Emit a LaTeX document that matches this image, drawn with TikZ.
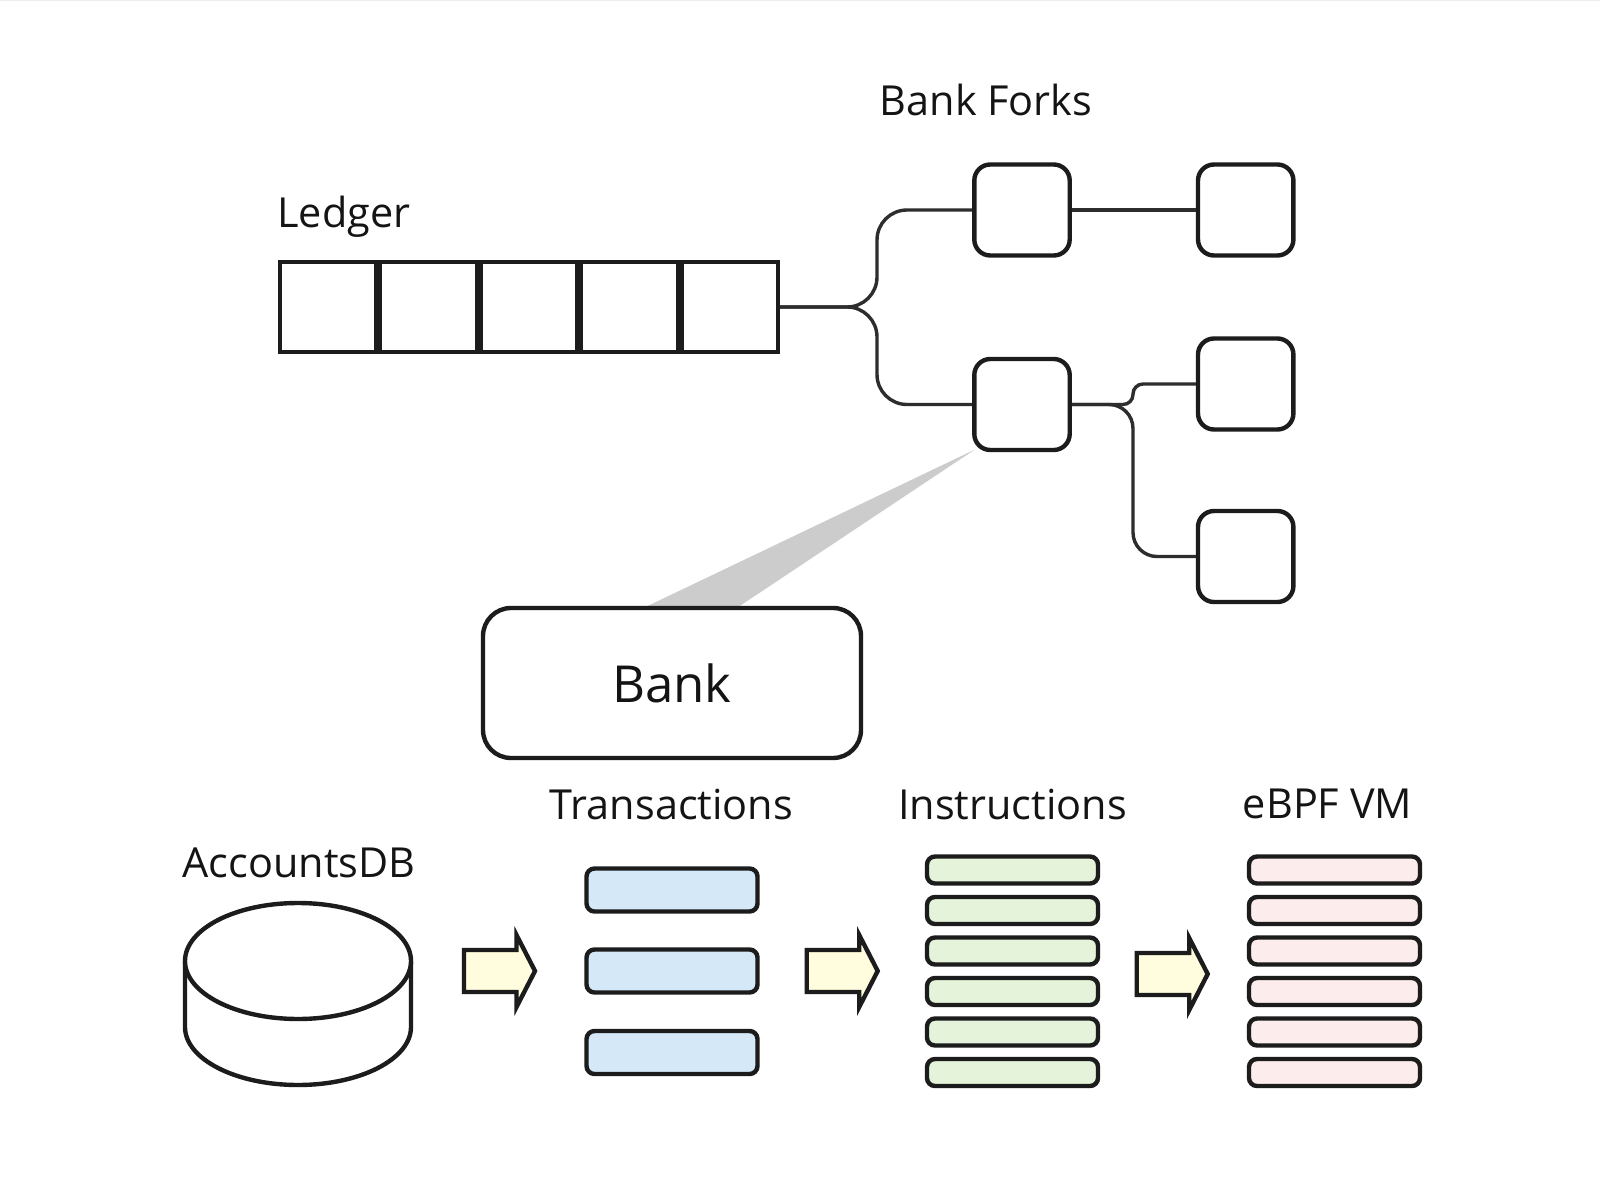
\documentclass[tikz,border=0pt]{standalone}
\usepackage{fontspec}
\setmainfont{Open Sans}
\usetikzlibrary{calc,backgrounds}
\definecolor{linec}{RGB}{28,28,28}
\definecolor{connc}{RGB}{45,45,45}
\definecolor{txtc}{RGB}{20,20,20}
\definecolor{arrowfill}{RGB}{255,253,221}
\definecolor{txfill}{RGB}{212,232,248}
\definecolor{infill}{RGB}{229,243,218}
\definecolor{vmfill}{RGB}{253,236,236}
\definecolor{wedgec}{RGB}{204,204,204}
\definecolor{edgec}{RGB}{236,236,236}
\tikzset{
  forkbox/.style={draw=linec, line width=2.2pt, rounded corners=8pt, fill=white,
    minimum width=47.7pt, minimum height=45.5pt, inner sep=0pt},
  cell/.style={draw=linec, line width=2pt, fill=white,
    minimum width=48.2pt, minimum height=45pt, inner sep=0pt},
  bankbox/.style={draw=linec, line width=2.2pt, rounded corners=14pt, fill=white,
    minimum width=189pt, minimum height=75pt, inner sep=0pt, text=txtc,
    font=\fontsize{25.5}{30}\selectfont},
  conn/.style={draw=connc, line width=1.7pt},
  lbl/.style={text=txtc, inner sep=0pt, font=\fontsize{20.7}{24}\selectfont},
  txbar/.style={draw=linec, line width=2.2pt, rounded corners=4pt, fill=txfill,
    minimum width=85.5pt, minimum height=21.5pt, inner sep=0pt},
  inbar/.style={draw=linec, line width=2.2pt, rounded corners=4pt, fill=infill,
    minimum width=85.5pt, minimum height=13.5pt, inner sep=0pt},
  vmbar/.style={draw=linec, line width=2.2pt, rounded corners=4pt, fill=vmfill,
    minimum width=85.5pt, minimum height=13.5pt, inner sep=0pt},
  fatarr/.style={draw=linec, line width=2.2pt, fill=arrowfill, line join=miter},
  dbshape/.style={draw=linec, line width=2.2pt, fill=white},
}
\begin{document}
\begin{tikzpicture}[x=0.5pt,y=-0.5pt]
\useasboundingbox (0,0) rectangle (1600,1187);

% Ledger
\node[lbl, anchor=base west] (ledgerlbl) at (277,228) {Ledger};
\foreach \i in {1,...,5}{
  \node[cell] (L\i) at ({278+100.4*(\i-0.5)},307) {};
}

% Bank forks
\node[lbl, anchor=base] (forkslbl) at (986,116) {Bank Forks};
\node[forkbox] (F1) at (1022,210) {};
\node[forkbox] (F2) at (1022,404.5) {};
\node[forkbox] (R1) at (1245.7,210) {};
\node[forkbox] (R2) at (1245.7,384) {};
\node[forkbox] (R3) at (1245.7,556.5) {};

\coordinate (J) at (877,307);
\coordinate (K) at (1133,404.5);
\draw[conn, rounded corners=15pt] (L5.east) -- (J) |- (F1.west);
\draw[conn, rounded corners=15pt] (L5.east) -- (J) |- (F2.west);
\draw[conn] (F1.east) -- (R1.west);
\draw[conn, rounded corners=5pt] (F2.east) -- (K) |- (R2.west);
\draw[conn, rounded corners=12pt] (F2.east) -- (K) |- (R3.west);

% Bank
\node[bankbox] (Bank) at (672,683) {Bank};

\begin{scope}[on background layer]
\fill[white] (0,0) rectangle (1600,1187);
\draw[edgec, line width=0.6pt] (0,0.6) -- (1600,0.6);
\fill[wedgec] ($(F2.south west)+(2.5,-2.5)$) -- ($(Bank.north)+(-24,0)$) -- ($(Bank.north)+(68,0)$) -- cycle;
\end{scope}

% AccountsDB
\node[lbl, anchor=base] (dblbl) at (299,877) {AccountsDB};
\coordinate (DB) at (298,961);
\draw[dbshape] ($(DB)+(-113,0)$) -- ($(DB)+(-113,66)$) arc[start angle=180, end angle=0, x radius=113, y radius=58] -- ($(DB)+(113,0)$);
\draw[dbshape] (DB) ellipse[x radius=113, y radius=58];

% Transactions
\node[lbl, anchor=base] (txlbl) at (671.5,819) {Transactions};
\node[txbar] (T1) at (672,890) {};
\node[txbar] (T2) at (672,971) {};
\node[txbar] (T3) at (672,1052.5) {};

% Instructions
\node[lbl, anchor=base] (inlbl) at (1012.5,819) {Instructions};
\foreach \i in {0,...,5}{
  \node[inbar] (I\i) at (1012.5,{870+40.5*\i}) {};
}

% eBPF VM
\node[lbl, anchor=base] (vmlbl) at (1327.5,818.5) {eBPF VM};
\foreach \i in {0,...,5}{
  \node[vmbar] (V\i) at (1334.5,{870+40.5*\i}) {};
}

% fat arrows
\foreach \ax/\ay in {464/971, 806.7/971, 1136.7/974}{
  \draw[fatarr, shift={(\ax,\ay)}] (0,-21) -- (52.5,-21) -- (52.5,-36) -- (71,0) -- (52.5,36) -- (52.5,21) -- (0,21) -- cycle;
}
\end{tikzpicture}
\end{document}
